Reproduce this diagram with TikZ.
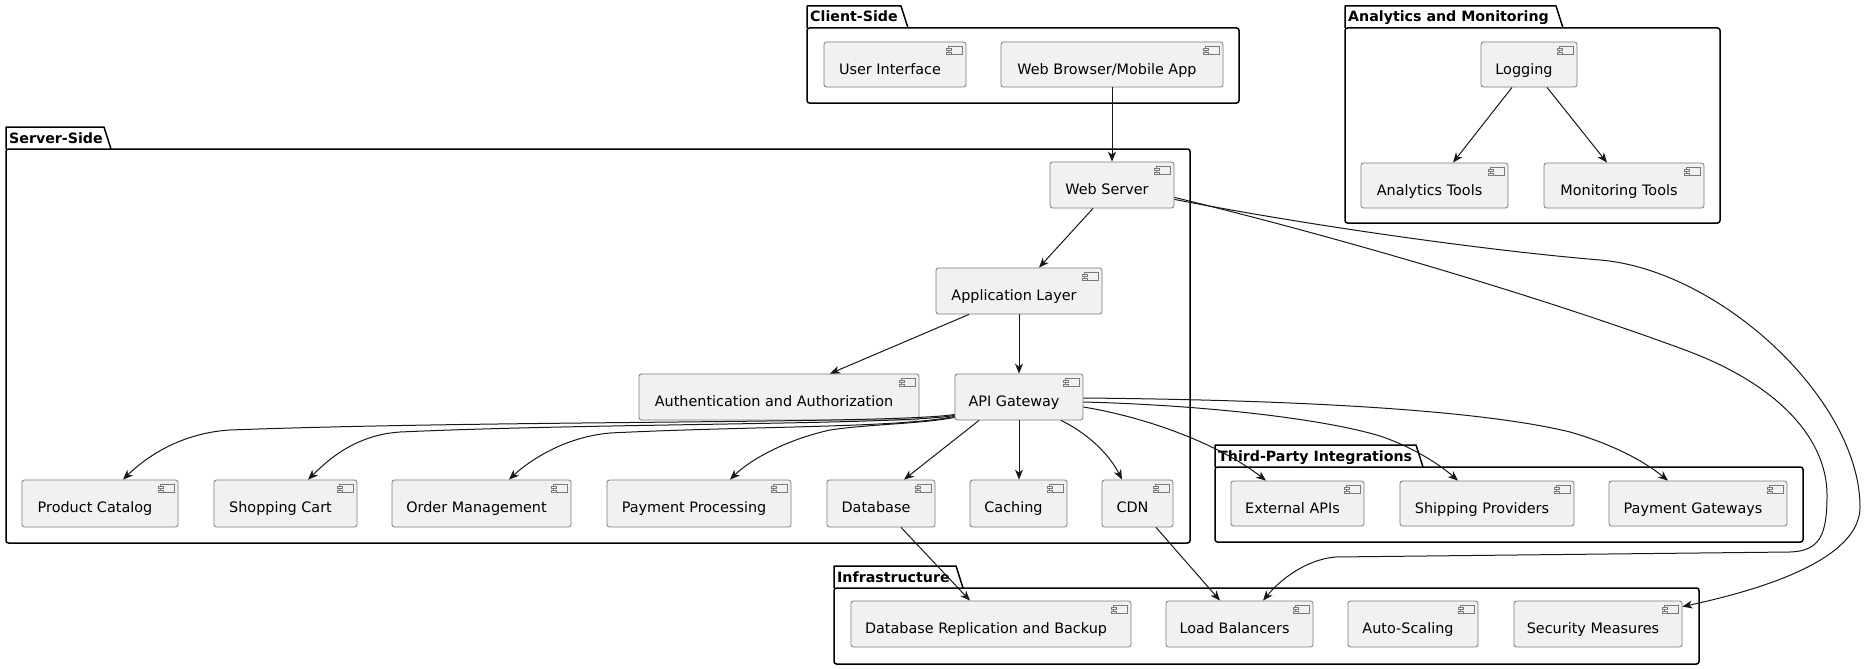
\documentclass[tikz,border=0pt]{standalone}
\usepackage{fontspec}
\setmainfont{DejaVu Sans}
\usetikzlibrary{arrows.meta}
\definecolor{compfill}{HTML}{F1F1F1}
\definecolor{compdraw}{HTML}{7A7A7A}
\definecolor{linec}{HTML}{181818}
\tikzset{
 compbox/.style={draw=compdraw, fill=compfill, line width=0.8pt, rounded corners=2.5pt, inner sep=0pt},
 comptext/.style={font=\fontsize{14.4}{16}\selectfont, inner sep=0pt, text=black},
 compicon/.style={draw=compdraw, fill=compfill, line width=0.6pt},
 pkgline/.style={draw=black, line width=1.5pt},
 pkgtitle/.style={font=\fontsize{14.2}{16}\selectfont\bfseries, inner sep=0pt},
 conn/.style={draw=linec, line width=1pt, -{Stealth[length=10pt,width=8pt,inset=3pt]}},
}
\newcommand{\umlcomp}[6]{%
 \pgfmathsetmacro\ucw{#4-#2}%
 \pgfmathsetmacro\uch{#5-#3}%
 \pgfmathsetmacro\ucx{(#2+#4)/2}%
 \pgfmathsetmacro\ucy{(#3+#5)/2}%
 \node[compbox, minimum width=\ucw pt, minimum height=\uch pt] (#1) at (\ucx,\ucy) {};
 \node[comptext, anchor=base] (#1-t) at ([xshift=-5pt,yshift=-33pt]#1.north) {#6};
 \draw[compicon] ([xshift=-18pt,yshift=-5pt]#1.north east) rectangle ([xshift=-4pt,yshift=-13pt]#1.north east);
 \draw[compicon] ([xshift=-20pt,yshift=-7pt]#1.north east) rectangle ([xshift=-15pt,yshift=-9pt]#1.north east);
 \draw[compicon] ([xshift=-20pt,yshift=-10.5pt]#1.north east) rectangle ([xshift=-15pt,yshift=-12.5pt]#1.north east);
}
\newcommand{\umlpkg}[8]{%
 \draw[pkgline, rounded corners=2.5pt] (#2,#5) rectangle (#6,#7);
 \draw[pkgline, line join=round] (#2,#5) -- (#2,#3) -- ({#4-7},#3) -- (#4,#5);
 \node[pkgtitle, anchor=base west] (#1) at ({#2+3},{#3+16}) {#8};
}
\begin{document}
\begin{tikzpicture}[x=1pt,y=-1pt]
\fill[white] (0,0) rectangle (1876,669);
\useasboundingbox (0,0) rectangle (1876,669);
% packages
\umlpkg{pclient}{807}{6}{908}{28}{1239}{103}{Client-Side}
\umlpkg{pana}{1345}{6}{1563}{28}{1720}{223}{Analytics and Monitoring}
\umlpkg{pserver}{6}{127}{111}{149}{1190}{543}{Server-Side}
\umlpkg{pthird}{1215}{445}{1423}{467}{1803}{542}{Third-Party Integrations}
\umlpkg{pinfra}{834}{566}{963}{588}{1699}{664}{Infrastructure}
% components
\umlcomp{ui}{824}{42}{966}{87}{User Interface}
\umlcomp{wb}{1001}{42}{1223}{87}{Web Browser/Mobile App}
\umlcomp{log}{1481}{42}{1577}{87}{Logging}
\umlcomp{at}{1361}{163}{1508}{208}{Analytics Tools}
\umlcomp{mt}{1544}{163}{1704}{208}{Monitoring Tools}
\umlcomp{ws}{1050}{162}{1174}{208}{Web Server}
\umlcomp{al}{936}{268}{1102}{314}{Application Layer}
\umlcomp{auth}{639}{374}{919}{420}{Authentication and Authorization}
\umlcomp{api}{955}{374}{1083}{420}{API Gateway}
\umlcomp{pc}{22}{480}{178}{527}{Product Catalog}
\umlcomp{sc}{214}{480}{357}{527}{Shopping Cart}
\umlcomp{om}{392}{480}{571}{527}{Order Management}
\umlcomp{pp}{607}{480}{791}{527}{Payment Processing}
\umlcomp{db}{827}{480}{935}{527}{Database}
\umlcomp{cache}{970}{480}{1067}{527}{Caching}
\umlcomp{cdn}{1102}{480}{1173}{527}{CDN}
\umlcomp{ext}{1231}{481}{1364}{526}{External APIs}
\umlcomp{ship}{1400}{481}{1574}{526}{Shipping Providers}
\umlcomp{pg}{1609}{481}{1787}{526}{Payment Gateways}
\umlcomp{dbr}{851}{601}{1131}{647}{Database Replication and Backup}
\umlcomp{lb}{1166}{601}{1313}{647}{Load Balancers}
\umlcomp{as}{1348}{601}{1478}{647}{Auto-Scaling}
\umlcomp{sec}{1514}{601}{1682}{647}{Security Measures}
% connectors
\draw[conn] (wb.south) -- (ws.north);
\draw[conn] ([xshift=-17pt]log.south) -- ([xshift=18.5pt]at.north);
\draw[conn] ([xshift=18pt]log.south) -- ([xshift=-17pt]mt.north);
\draw[conn] ([xshift=-19pt]ws.south) -- ([xshift=20pt]al.north);
\draw[conn] ([xshift=-50pt]al.south) -- ([xshift=51pt]auth.north);
\draw[conn] (al.south) -- (api.north);
\draw[conn] ([xshift=-40pt]api.south) -- ([xshift=23pt]db.north);
\draw[conn] (api.south) -- (api.south |- cache.north);
\draw[conn] ([xshift=42pt]api.south) .. controls (1085,432) and (1108,452) .. ([xshift=-15.5pt]cdn.north);
\draw[conn] ([yshift=6pt]api.south west) .. controls (900,424) and (500,420) .. (230,430) .. controls (180,433) and (145,458) .. ([xshift=23pt]pc.north);
\draw[conn] ([yshift=5pt]api.south west) .. controls (900,425) and (600,423) .. (400,432) .. controls (355,435) and (328,460) .. ([xshift=22.5pt]sc.north);
\draw[conn] ([yshift=4pt]api.south west) .. controls (900,428) and (750,426) .. (610,433) .. controls (565,437) and (530,460) .. ([xshift=27.5pt]om.north);
\draw[conn] ([yshift=3pt]api.south west) .. controls (920,424) and (870,424) .. (830,430) .. controls (785,440) and (750,460) .. ([xshift=31pt]pp.north);
\draw[conn] ([yshift=-10pt]api.east) .. controls (1150,418) and (1220,445) .. ([xshift=-31.5pt]ext.north);
\draw[conn] ([yshift=-5pt]api.east) .. controls (1200,405) and (1320,418) .. (1380,436) .. controls (1415,448) and (1440,465) .. ([xshift=-29pt]ship.north);
\draw[conn] ([yshift=-1pt]api.east) .. controls (1300,400) and (1480,410) .. (1570,432) .. controls (1615,445) and (1645,462) .. ([xshift=-30pt]pg.north);
\draw[conn] ([xshift=20pt]db.south) -- ([xshift=-21pt]dbr.north);
\draw[conn] ([xshift=18.5pt]cdn.south) -- ([xshift=-19.5pt]lb.north);
\draw[conn] ([yshift=11pt]ws.south east) .. controls (1350,240) and (1550,300) .. (1685,350) .. controls (1780,385) and (1827,440) .. (1827,495) .. controls (1827,535) and (1820,551) .. (1790,552) -- (1335,557) .. controls (1305,560) and (1280,580) .. ([xshift=23.5pt]lb.north);
\draw[conn] ([yshift=9pt]ws.south east) .. controls (1300,224) and (1480,250) .. (1600,260) .. controls (1720,270) and (1860,400) .. (1860,507) .. controls (1860,560) and (1760,590) .. ([yshift=-6pt]sec.north east);
\end{tikzpicture}
\end{document}
